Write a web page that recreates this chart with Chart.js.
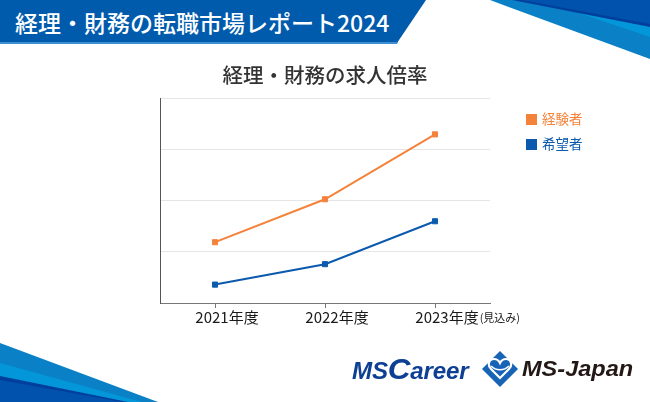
<!DOCTYPE html>
<html><head><meta charset="utf-8">
<script src="https://cdn.jsdelivr.net/npm/chart.js@4/dist/chart.umd.min.js"></script>
<style>
html,body{margin:0;padding:0;background:#fff;}
#wrap{position:relative;width:650px;height:402px;overflow:hidden;font-family:"Noto Sans CJK JP","Noto Sans",sans-serif;}
#bg{position:absolute;left:0;top:0;}
#c{position:absolute;left:0;top:0;}
#head{position:absolute;left:15px;top:3px;height:38px;line-height:38px;color:#fff;font-size:23px;font-weight:500;white-space:nowrap;}
#legend{position:absolute;left:526px;top:107px;}
.li{height:25px;line-height:22px;font-size:13.5px;white-space:nowrap;}
.sw{display:inline-block;width:11px;height:11px;margin-right:5px;vertical-align:-1px;}
.logo1{position:absolute;left:352px;top:352px;font-family:"Liberation Sans",Arial,sans-serif;font-weight:bold;font-style:italic;font-size:23px;color:#0d3f95;white-space:nowrap;letter-spacing:-0.2px;transform:scaleX(1.05);transform-origin:left;}
.logo1 .big{font-size:30px;}
.logo2{position:absolute;left:522px;top:356px;font-family:"Liberation Sans",Arial,sans-serif;font-weight:bold;font-style:italic;font-size:22px;color:#231815;white-space:nowrap;transform:scaleX(1.07);transform-origin:left;}
</style></head>
<body>
<div id="wrap">
<svg id="bg" width="650" height="402">
  <polygon points="0,0 426,0 397,43 0,43" fill="#005bac"/>
  <polygon points="0,42 398,42 397,44 0,44" fill="#3d8fd2"/>
  <polygon points="490,0 650,0 650,59" fill="#0a80c6"/>
  <polygon points="540,0 650,0 650,37" fill="#0396d8"/>
  <polygon points="512,0 650,0 650,27" fill="#003f9c"/>
  <polygon points="522,0 650,0 650,24" fill="#0052ad"/>
  <polygon points="0,343 158,402 0,402" fill="#0a80c6"/>
  <polygon points="0,363 142,402 0,402" fill="#0396d8"/>
  <polygon points="0,376 128,402 0,402" fill="#003f9c"/>
  <polygon points="0,380 122,402 0,402" fill="#0052ad"/>
  <g transform="translate(500,369)">
    <polygon points="0,-18 18,0 0,18 -18,0" fill="#1763b5"/>
    <path d="M0,9 L-9,0 C-13,-4 -11,-10 -6,-10 C-3,-10 -1,-8 0,-6 C1,-8 3,-10 6,-10 C11,-10 13,-4 9,0 Z" fill="none" stroke="#fff" stroke-width="2.2"/>
    <path d="M-9,-3 C-4,2 4,2 9,-3" fill="none" stroke="#fff" stroke-width="1.6"/>
  </g>
</svg>
<div id="head">経理・財務の転職市場レポート2024</div>
<canvas id="c" width="650" height="402"></canvas>
<div id="legend"></div>
<div class="logo1">MS<span class="big">C</span>areer</div>
<div class="logo2">MS-Japan</div>
</div>
<script>
const chartTitle = '経理・財務の求人倍率';
const categories = ['2021年度', '2022年度', '2023年度'];
const categoryNotes = ['', '', '(見込み)'];
const seriesNames = ['経験者', '希望者'];
const experienced = [1.19, 2.03, 3.30];
const applicants = [0.36, 0.76, 1.60];
const seriesColors = ['#f5823a', '#0b5aae'];
const yMin = 0, yMax = 4, yStep = 1;

const FONT = '"Noto Sans CJK JP","Noto Sans",sans-serif';
const TICK_LEN = 5, LABEL_OFFSET = 12, LABEL_SIZE = 15;

const lg = document.getElementById('legend');
seriesNames.forEach((n, i) => {
  const d = document.createElement('div');
  d.className = 'li';
  d.style.color = seriesColors[i];
  d.innerHTML = '<span class="sw" style="background:' + seriesColors[i] + '"></span>' + n;
  lg.appendChild(d);
});

const notePlugin = {
  id: 'notes',
  afterDraw(chart) {
    const xs = chart.scales.x, ctx = chart.ctx;
    ctx.save();
    categoryNotes.forEach((note, i) => {
      if (!note) return;
      ctx.font = LABEL_SIZE + 'px ' + FONT;
      const w = ctx.measureText(categories[i]).width;
      const px = xs.getPixelForTick(i) + LABEL_OFFSET + w / 2 + 1;
      const py = xs.top + TICK_LEN + LABEL_SIZE * 0.6 + 1;
      ctx.font = '11px ' + FONT;
      ctx.fillStyle = '#222';
      ctx.textAlign = 'left';
      ctx.textBaseline = 'middle';
      ctx.fillText(note, px, py);
    });
    ctx.restore();
  }
};

new Chart(document.getElementById('c'), {
  type: 'line',
  data: {
    labels: categories,
    datasets: [
      { label: seriesNames[0], data: experienced, borderColor: seriesColors[0], backgroundColor: seriesColors[0],
        borderWidth: 2, pointStyle: 'rect', pointRadius: 3.6, pointBorderWidth: 1, pointHoverRadius: 3.6, tension: 0 },
      { label: seriesNames[1], data: applicants, borderColor: seriesColors[1], backgroundColor: seriesColors[1],
        borderWidth: 2, pointStyle: 'rect', pointRadius: 3.6, pointBorderWidth: 1, pointHoverRadius: 3.6, tension: 0 }
    ]
  },
  options: {
    responsive: false,
    animation: false,
    events: [],
    layout: { padding: { left: 160, right: 160, top: 50, bottom: 76 } },
    plugins: {
      legend: { display: false },
      tooltip: { enabled: false },
      title: {
        display: true, text: chartTitle, color: '#333',
        font: { family: FONT, size: 20.5, weight: '500' },
        padding: { top: 13, bottom: 11 }
      }
    },
    scales: {
      x: {
        offset: true,
        grid: { display: true, drawOnChartArea: false, drawTicks: true, tickLength: TICK_LEN, color: '#777' },
        border: { display: true, color: '#777', width: 1 },
        ticks: { color: '#1a1a1a', padding: 0, labelOffset: LABEL_OFFSET, maxRotation: 0,
                 font: { family: FONT, size: LABEL_SIZE } }
      },
      y: {
        min: yMin, max: yMax,
        ticks: { display: false, stepSize: yStep },
        grid: { color: '#e6e6e6', drawTicks: false },
        border: { display: true, color: '#555', width: 1 }
      }
    }
  },
  plugins: [notePlugin]
});
</script>
</body></html>
